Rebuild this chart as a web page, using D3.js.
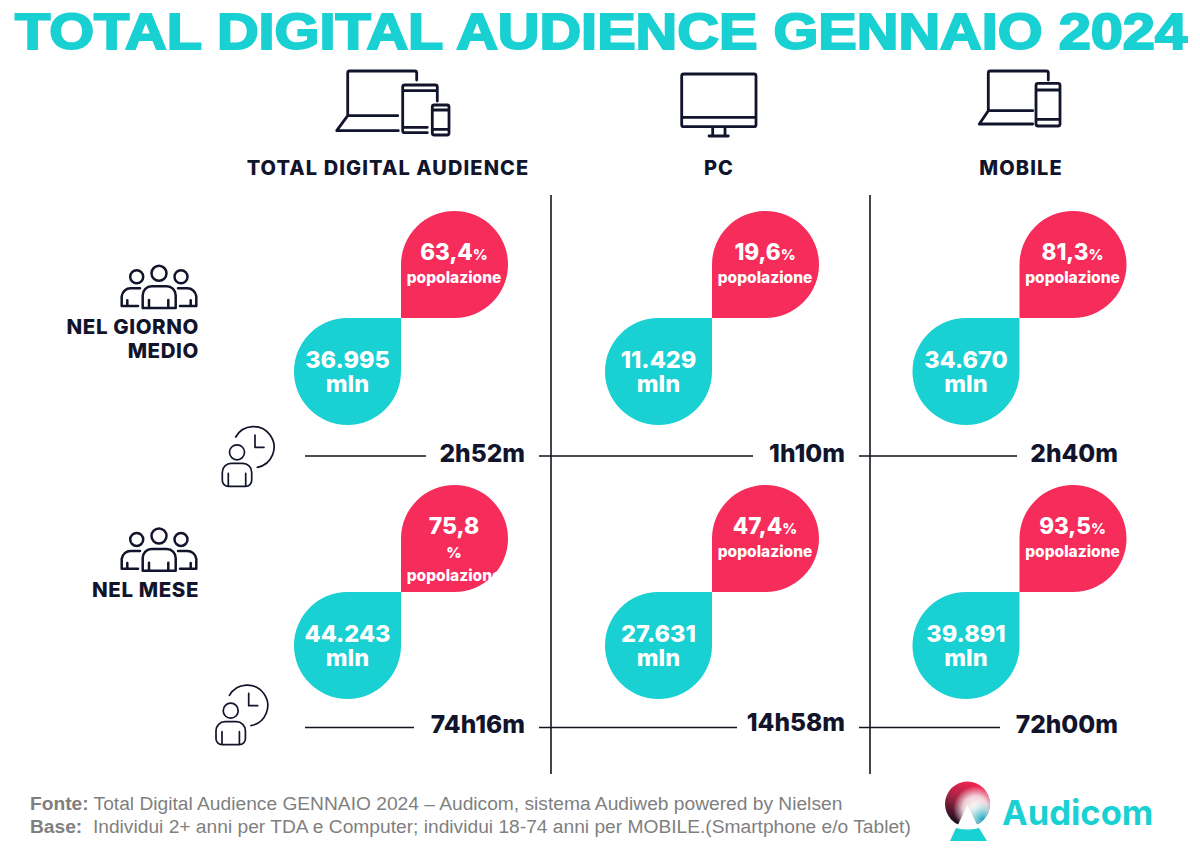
<!DOCTYPE html>
<html>
<head>
<meta charset="utf-8">
<script src="https://cdn.jsdelivr.net/npm/d3@7"></script>
<style>
	html, body { margin: 0; padding: 0; background: #fff; }
	svg { display: block; }
	text { font-family: Inter, sans-serif; }
	.icon { fill: none; stroke: #11142a; stroke-linecap: round; stroke-linejoin: round; }
</style>
</head>
<body>
<script>
var titleText = "TOTAL DIGITAL AUDIENCE GENNAIO 2024";
var columns = ["TOTAL DIGITAL AUDIENCE", "PC", "MOBILE"];
var periods = ["NEL GIORNO MEDIO", "NEL MESE"];

// Audience in thousands, share of population in %, time spent
var audienceDay = [36995, 11429, 34670];
var audienceMonth = [44243, 27631, 39891];
var shareDay = [63.4, 19.6, 81.3];
var shareMonth = [75.8, 47.4, 93.5];
var timeDay = ["2h52m", "1h10m", "2h40m"];
var timeMonth = ["74h16m", "14h58m", "72h00m"];

var sourceLine = "Total Digital Audience GENNAIO 2024 – Audicom, sistema Audiweb powered by Nielsen";
var baseLine = "Individui 2+ anni per TDA e Computer; individui 18-74 anni per MOBILE.(Smartphone e/o Tablet)";

var width = 1200,
		height = 853,
		blobR = 53.5,
		ink = "#11142a",
		teal = "#19d0d2",
		pink = "#f62c5a";

// Italian number formats
var it = d3.formatLocale({decimal: ",", thousands: ".", grouping: [3], currency: ["", "€"]});
var formatAudience = it.format(",d");
var formatShare = it.format(".1f");

// Where the two drops of each cell meet
var xCol = d3.scaleOrdinal().domain(columns).range([401, 712, 1019.5]);
var yRow = d3.scaleOrdinal().domain(periods).range([318, 592]);
var yTime = d3.scaleOrdinal().domain(periods).range([456, 727.5]);

// Time rule and label for each cell, left/right ends of the rule
var timeRight = d3.scaleOrdinal().domain(columns).range([525, 845, 1118]);
var ruleFrom = d3.scaleOrdinal().domain(columns).range([305, 539, 859]);
var ruleTo = [[426, 753, 1017], [414, 737, 1000]];

var svg = d3.select("body").append("svg")
		.attr("width", width)
		.attr("height", height)
		.attr("viewBox", "0 0 " + width + " " + height);

// Title
svg.append("text")
		.attr("x", 15)
		.attr("y", 48.5)
		.attr("textLength", 1172)
		.attr("lengthAdjust", "spacingAndGlyphs")
		.style("font-family", "'Liberation Sans', sans-serif")
		.style("font-weight", 700)
		.style("font-size", "50.5px")
		.style("stroke", teal)
		.style("stroke-width", 2)
		.style("fill", teal)
		.text(titleText);

// Column headers
var headerX = d3.scaleOrdinal().domain(columns).range([388, 719, 1021]);
svg.selectAll(".header")
	.data(columns)
	.enter().append("text")
		.attr("class", "header")
		.attr("x", function(d) { return headerX(d); })
		.attr("y", 175)
		.attr("text-anchor", "middle")
		.style("font-weight", 800)
		.style("font-size", "20px")
		.style("letter-spacing", "1.1px")
		.style("fill", ink)
		.text(function(d) { return d; });

// Device icons
var deviceIcons = [
	"M347.7 115.7V73a2 2 0 0 1 2-2H414.7a2 2 0 0 1 2 2V80M347.7 115.7H397.7M347.7 115.7L336.7 130.7H398.3" +
	"M427.3 132.7H404.7a2 2 0 0 1 -2 -2V87a2 2 0 0 1 2 -2H435.3a2 2 0 0 1 2 2V101M402.7 90.7H437.3M402.7 127.3H427.3" +
	"M434.3 105H447a2 2 0 0 1 2 2V133a2 2 0 0 1 -2 2H434.3a2 2 0 0 1 -2 -2V107a2 2 0 0 1 2 -2ZM432.3 110H449M432.3 129.3H449",
	"M683.7 74H754a2 2 0 0 1 2 2V124.7a2 2 0 0 1 -2 2H683.7a2 2 0 0 1 -2 -2V76a2 2 0 0 1 2 -2ZM681.7 117.3H756" +
	"M712.7 126.7V136M725 126.7V136M709 136H728.3",
	"M988.3 110.7V73a2 2 0 0 1 2 -2H1046.3a2 2 0 0 1 2 2V80M988.3 110.7H1032.7M988.3 110.7L979.3 124H1032.7" +
	"M1038 83.3H1058a2 2 0 0 1 2 2V124a2 2 0 0 1 -2 2H1038a2 2 0 0 1 -2 -2V85.3a2 2 0 0 1 2 -2ZM1036 90H1060M1036 119.3H1060"
];
svg.selectAll(".device")
	.data(deviceIcons)
	.enter().append("path")
		.attr("class", "device icon")
		.attr("d", function(d) { return d; })
		.style("stroke-width", 2.8);

// Vertical separators
svg.selectAll(".sep")
	.data([551, 870])
	.enter().append("line")
		.attr("class", "sep")
		.attr("x1", function(d) { return d; })
		.attr("x2", function(d) { return d; })
		.attr("y1", 195)
		.attr("y2", 774)
		.style("stroke", "#15151f")
		.style("stroke-width", 1.6);

// Drop with one square corner, drawn around the point where the two meet
function drop(sx, sy) {
	var p = d3.path();
	p.moveTo(0, 0);
	p.lineTo(0, sy * blobR);
	p.arc(sx * blobR, sy * blobR, blobR, sx > 0 ? Math.PI : 0, sx > 0 ? 1.5 * Math.PI : 0.5 * Math.PI, false);
	p.arc(sx * blobR, sy * blobR, blobR, sx > 0 ? 1.5 * Math.PI : 0.5 * Math.PI, sx > 0 ? 0.5 * Math.PI : 1.5 * Math.PI, false);
	p.closePath();
	return p.toString();
}

var rows = [
	{period: periods[0], audience: audienceDay, share: shareDay, time: timeDay, rule: ruleTo[0], timeLift: [0, 0, 0]},
	{period: periods[1], audience: audienceMonth, share: shareMonth, time: timeMonth, rule: ruleTo[1], timeLift: [0, 2.5, 0]}
];

function white(sel, size) {
	return sel.attr("text-anchor", "middle")
			.style("fill", "#fff")
			.style("font-size", size + "px")
			.style("font-weight", 800);
}

// One line of a multi-line label inside a drop
function addLine(text, str, size, y) {
	var x = text.attr("x");
	return text.append("tspan")
			.attr("x", x)
			.attr("y", y)
			.style("font-size", size + "px")
			.text(str);
}

rows.forEach(function(row, r) {
	columns.forEach(function(col, c) {
		var g = svg.append("g")
				.attr("class", "cell")
				.attr("transform", "translate(" + xCol(col) + "," + yRow(row.period) + ")");

		g.append("path").attr("d", drop(1, -1)).style("fill", pink);
		g.append("path").attr("d", drop(-1, 1)).style("fill", teal);

		var share = formatShare(row.share[c]);
		var wrapped = r === 1 && c === 0; // this one breaks onto three lines in the original

		var pinkText = white(g.append("text"), 22.5).attr("x", 53);
		if (wrapped) {
			addLine(pinkText, share, 23, -58);
			addLine(pinkText, "%", 15, -34);
			addLine(pinkText, "popolazione", 15.5, -11);
		} else {
			addLine(pinkText, share, 22.5, -58);
			pinkText.append("tspan").style("font-size", "14.5px").text("%");
			addLine(pinkText, "popolazione", 15.5, -35);
		}

		var tealText = white(g.append("text"), 23.5).attr("x", -53.5);
		addLine(tealText, formatAudience(row.audience[c]), 23.5, 50);
		addLine(tealText, "mln", 23.5, 74);

		// Time spent
		svg.append("line")
				.attr("class", "rule")
				.attr("x1", ruleFrom(col))
				.attr("x2", row.rule[c])
				.attr("y1", yTime(row.period))
				.attr("y2", yTime(row.period))
				.style("stroke", "#15151f")
				.style("stroke-width", 1.6);

		svg.append("text")
				.attr("class", "time")
				.attr("x", timeRight(col))
				.attr("y", yTime(row.period) + 5.5 - row.timeLift[c])
				.attr("text-anchor", "end")
				.style("font-size", "24.5px")
				.style("font-weight", 800)
				.style("fill", ink)
				.text(row.time[c]);
	});
});

// Period labels
var rowLabels = [["NEL GIORNO", "MEDIO"], ["NEL MESE"]];
var rowLabelY = [334, 597];
rowLabels.forEach(function(lines, i) {
	var label = svg.append("text")
			.attr("class", "row-label")
			.attr("text-anchor", "end")
			.style("font-size", "20.5px")
			.style("font-weight", 800)
			.style("letter-spacing", "0.6px")
			.style("fill", ink);
	lines.forEach(function(line, j) {
		label.append("tspan")
				.attr("x", 199)
				.attr("y", rowLabelY[i] + j * 24)
				.text(line);
	});
});

// People icon, origin on the middle head
var peopleIcon = "M-22.3 3.4m-6.5 0a6.5 6.5 0 1 0 13 0a6.5 6.5 0 1 0 -13 0" +
		"M22 3.4m-6.5 0a6.5 6.5 0 1 0 13 0a6.5 6.5 0 1 0 -13 0" +
		"M-7.5 0a7.5 7.5 0 1 0 15 0a7.5 7.5 0 1 0 -15 0" +
		"M-16.3 34.7V22a9 9 0 0 1 9 -9H7.7a9 9 0 0 1 9 9V34.7H-16.3ZM-10 26.7V34.7M9.3 26.7V34.7" +
		"M-19 15H-28a9 9 0 0 0 -9.3 8V32.7H-21M-31.7 27V32.7" +
		"M19 15H28a9 9 0 0 1 9.3 8V32.7H21M31.7 27V32.7";
[[159, 273.3], [159, 536]].forEach(function(pos) {
	svg.append("path")
			.attr("class", "people icon")
			.attr("transform", "translate(" + pos + ")")
			.attr("d", peopleIcon)
			.style("stroke-width", 2.5);
});

// Person with clock, origin on the head
var clockIcon = "M-7.5 0a7.5 7.5 0 1 0 15 0a7.5 7.5 0 1 0 -15 0" +
		"M-14.7 21V20a9 9 0 0 1 9 -9H5.7a9 9 0 0 1 9 9V28a6 6 0 0 1 -6 6H-8.7a6 6 0 0 1 -6 -6ZM-8.7 21V33.5M8.7 21V33.5" +
		"M-1.3 -15.3A20.5 20.5 0 1 1 20.3 15M18 -17.3V-5H27";
[[237, 452.3], [230.7, 710.7]].forEach(function(pos) {
	svg.append("path")
			.attr("class", "clock icon")
			.attr("transform", "translate(" + pos + ")")
			.attr("d", clockIcon)
			.style("stroke-width", 1.7);
});

// Footer
var footer = svg.append("g")
		.style("fill", "#7f7f7f")
		.style("font-size", "19.2px");

[["Fonte:", " " + sourceLine, 810], ["Base:", "  " + baseLine, 833]].forEach(function(d) {
	var t = footer.append("text")
			.attr("x", 30)
			.attr("y", d[2])
			.attr("xml:space", "preserve")
			.style("font-family", "'Liberation Sans', sans-serif");
	t.append("tspan").style("font-weight", 700).text(d[0]);
	t.append("tspan").text(d[1]);
});

// Audicom logo
var defs = svg.append("defs");
var base = defs.append("linearGradient")
		.attr("id", "logo-base")
		.attr("x1", 0.6).attr("y1", 0).attr("x2", 0.15).attr("y2", 0.95);
base.append("stop").attr("offset", "0%").attr("stop-color", "#f5244f");
base.append("stop").attr("offset", "45%").attr("stop-color", "#a82445");
base.append("stop").attr("offset", "100%").attr("stop-color", "#080c18");

var whiteGlow = defs.append("radialGradient")
		.attr("id", "logo-white")
		.attr("cx", 0.68).attr("cy", 0.6).attr("r", 0.5);
whiteGlow.append("stop").attr("offset", "0%").attr("stop-color", "#fff");
whiteGlow.append("stop").attr("offset", "55%").attr("stop-color", "#fff").attr("stop-opacity", 0.8);
whiteGlow.append("stop").attr("offset", "100%").attr("stop-color", "#fff").attr("stop-opacity", 0);

var cyanGlow = defs.append("radialGradient")
		.attr("id", "logo-cyan")
		.attr("cx", 0.85).attr("cy", 0.85).attr("r", 0.4);
cyanGlow.append("stop").attr("offset", "0%").attr("stop-color", "#12a9c0");
cyanGlow.append("stop").attr("offset", "100%").attr("stop-color", "#7fe6e6").attr("stop-opacity", 0);

var logo = svg.append("g").attr("class", "logo");
["url(#logo-base)", "url(#logo-white)", "url(#logo-cyan)"].forEach(function(fill) {
	logo.append("circle").attr("cx", 967.5).attr("cy", 804).attr("r", 22.5).style("fill", fill);
});
logo.append("path").attr("d", "M967.5 805L981 833H954Z").style("fill", "#fff");
logo.append("path").attr("d", "M956 828Q967.5 831 979 828L987 841H950Z").style("fill", teal);
logo.append("text")
		.attr("x", 1002)
		.attr("y", 825)
		.style("font-size", "34.5px")
		.style("font-weight", 700)
		.style("fill", teal)
		.text("Audicom");
</script>
</body>
</html>
